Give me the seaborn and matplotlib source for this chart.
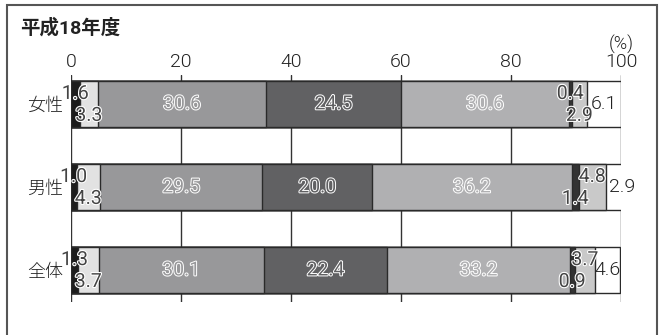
import matplotlib
matplotlib.use("Agg")
import matplotlib.pyplot as plt
import matplotlib.patheffects as pe
from matplotlib.patches import Rectangle
import pandas as pd
import seaborn as sns

# Response shares (%) per group, eight answer categories stacked left to right
groups = ["女性", "男性", "全体"]
seg1 = [1.6, 1.0, 1.3]
seg2 = [3.3, 4.3, 3.7]
seg3 = [30.6, 29.5, 30.1]
seg4 = [24.5, 20.0, 22.4]
seg5 = [30.6, 36.2, 33.2]
seg6 = [0.4, 1.4, 0.9]
seg7 = [2.9, 4.8, 3.7]
seg8 = [6.1, 2.9, 4.6]
x_ticks = [0, 20, 40, 60, 80, 100]
title = "平成18年度"
unit = "(%)"

segments = [seg1, seg2, seg3, seg4, seg5, seg6, seg7, seg8]
colors = ["#1c1c1c", "#e2e2e2", "#98989a", "#616163",
          "#b0b0b2", "#333333", "#c9c9c9", "#ffffff"]

sns.set_theme(style="white")
plt.rcParams["font.family"] = ["Roboto", "Noto Sans CJK JP", "DejaVu Sans"]
plt.rcParams["font.weight"] = 300

rows = []
for gi, g in enumerate(groups):
    cum = 0.0
    for si, seg in enumerate(segments):
        start = cum
        cum += seg[gi]
        rows.append({"group": g, "seg": si, "value": seg[gi],
                     "start": start, "cum": cum})
df = pd.DataFrame(rows)

fig = plt.figure(figsize=(6.64, 3.35), dpi=100)
ax = fig.add_axes([71 / 664, 33 / 335, 550 / 664, 227 / 335])

# stacked bars: draw cumulative totals from the outermost segment inward
for si in reversed(range(len(segments))):
    sub = df[df["seg"] == si]
    sns.barplot(data=sub, x="cum", y="group", orient="h", order=groups,
                color=colors[si], saturation=1, width=0.555,
                edgecolor="#2a2a2a", linewidth=1.0, ax=ax, zorder=2)

ax.set_xlim(0, 100)
ax.set_ylim(2.38, -0.353)
ax.set_xticks(x_ticks)
ax.set_xticklabels([str(t) for t in x_ticks])
ax.xaxis.tick_top()
ax.tick_params(axis="x", length=0, pad=3, labelsize=14, colors="#222222")
ax.tick_params(axis="y", length=0, pad=6, labelsize=13, colors="#222222")
ax.set_xlabel("")
ax.set_ylabel("")
ax.grid(axis="x", color="#333333", linewidth=1.0)
ax.grid(axis="y", visible=False)
ax.set_axisbelow(True)
for s in ax.spines.values():
    s.set_visible(False)

ax.text(100, -0.6, unit, ha="center", va="bottom", fontsize=13,
        color="#222222", transform=ax.transData, clip_on=False)

bar_half = 0.555 / 2


def outlined(width):
    return [pe.Stroke(linewidth=width, foreground="white"), pe.Normal()]


# upper/lower placement of labels for the thin segments
small_pos = {0: ["u", "u", "u"], 1: ["l", "l", "l"],
             5: ["u", "l", "l"], 6: ["l", "u", "u"]}

for _, r in df.iterrows():
    gi = groups.index(r["group"])
    si = r["seg"]
    xc = (r["start"] + r["cum"]) / 2
    label = f"{r['value']:.1f}"
    if si in small_pos:
        yy = gi - bar_half * 0.45 if small_pos[si][gi] == "u" else gi + bar_half * 0.5
        ax.text(xc, yy, label, ha="center", va="center", fontsize=14,
                fontweight="normal", color="#444444",
                path_effects=outlined(1.6), zorder=5)
    elif si == 7:
        xpos = xc + 1.5 if r["value"] < 4 else xc
        ax.text(xpos, gi, label, ha="center", va="center", fontsize=14,
                fontweight=300, color="#222222", zorder=5, clip_on=False)
    else:
        ax.text(xc, gi, label, ha="center", va="center", fontsize=14,
                fontweight="normal", color=colors[si],
                path_effects=outlined(1.4), zorder=5)

fig.text(20 / 664, 1 - 28 / 335, title, ha="left", va="center",
         fontsize=14, fontweight="bold", color="#222222")

fig.patches.append(Rectangle((7 / 664, -0.02), 650 / 664, 1 - 5 / 335 + 0.02,
                             transform=fig.transFigure, fill=False,
                             edgecolor="#555555", linewidth=1.5))

fig.savefig("out.png", dpi=100)
